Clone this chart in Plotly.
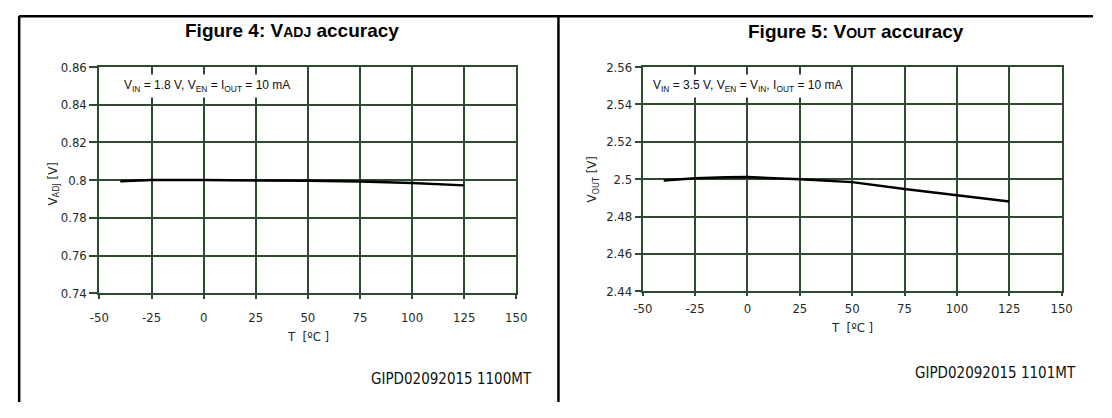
"""Two datasheet panels: V_ADJ and V_OUT accuracy versus temperature."""

import plotly.graph_objects as go

# the page keeps its default 8px body margin, so the figure is 16px smaller than the window
PAGE_W, PAGE_H, BODY = 1112, 418, 8
W, H = PAGE_W - 2 * BODY, PAGE_H - 2 * BODY

temp_adj = [-40, -30, -25, 0, 25, 50, 75, 100, 125]
vadj = [0.7994, 0.8, 0.8, 0.8, 0.8, 0.7997, 0.7993, 0.7985, 0.7972]

temp_out = [-40, -25, -10, 0, 25, 50, 75, 100, 125]
vout = [2.4993, 2.5005, 2.5010, 2.5011, 2.5, 2.4984, 2.4947, 2.4912, 2.488]

x_ticks = [-50, -25, 0, 25, 50, 75, 100, 125, 150]
x_labels = ["-50", "-25", "0", "25", "50", "75", "100", "125", "150"]
adj_ticks = [0.74, 0.76, 0.78, 0.8, 0.82, 0.84, 0.86]
adj_labels = ["0.74", "0.76", "0.78", "0.8", "0.82", "0.84", "0.86"]
out_ticks = [2.44, 2.46, 2.48, 2.5, 2.52, 2.54, 2.56]
out_labels = ["2.44", "2.46", "2.48", "2.5", "2.52", "2.54", "2.56"]

GRID = "#2f4a2f"
TXT = "#1e2b1e"
TICK_FONT = dict(family="Tahoma, DejaVu Sans Condensed, DejaVu Sans", size=13, color=TXT)
NOTE_FONT = dict(family="Liberation Sans Narrow, Arial Narrow, Liberation Sans", size=12, color="#111111")
TITLE_FONT = dict(family="Liberation Sans, Arial", size=19, color="#000000")


def px(x):
    # page pixel -> paper fraction
    return (x - BODY) / W


def py(y):
    return 1 - (y - BODY) / H


fig = go.Figure()
fig.add_trace(go.Scatter(x=temp_adj, y=vadj, mode="lines", xaxis="x", yaxis="y",
                         line=dict(color="#000000", width=2.5), showlegend=False))
fig.add_trace(go.Scatter(x=temp_out, y=vout, mode="lines", xaxis="x2", yaxis="y2",
                         line=dict(color="#000000", width=2.5), showlegend=False))

axis_common = dict(showgrid=True, gridcolor=GRID, gridwidth=2, showline=True, linecolor=GRID,
                   linewidth=2, mirror=True, ticks="outside", tickcolor=GRID, tickwidth=2,
                   tickfont=TICK_FONT, zeroline=False, fixedrange=True)

fig.update_layout(
    width=W, height=H, margin=dict(l=0, r=0, t=0, b=0),
    paper_bgcolor="white", plot_bgcolor="white",
    xaxis=dict(axis_common, domain=[px(91), px(516)], range=[-50, 150], tickvals=x_ticks,
               ticktext=x_labels, ticklen=4, ticklabelstandoff=7, anchor="y"),
    yaxis=dict(axis_common, domain=[py(297), py(62)], range=[0.74, 0.86], tickvals=adj_ticks,
               ticktext=adj_labels, ticklen=8, anchor="x"),
    xaxis2=dict(axis_common, domain=[px(645), px(1072)], range=[-50, 150], tickvals=x_ticks,
                ticktext=x_labels, ticklen=3, ticklabelstandoff=1, anchor="y2"),
    yaxis2=dict(axis_common, domain=[py(295), py(62)], range=[2.44, 2.56], tickvals=out_ticks,
                ticktext=out_labels, ticklen=6, anchor="x2"),
)

# table frame around the two figures
frame = dict(type="line", xref="paper", yref="paper", line=dict(color="#000000", width=2.5))
fig.add_shape(frame, x0=px(9), x1=1, y0=py(9.2), y1=py(9.2))
fig.add_shape(frame, x0=px(9.2), x1=px(9.2), y0=py(9), y1=0)
fig.add_shape(frame, x0=px(559), x1=px(559), y0=py(9), y1=0)

notes = [
    # (text, page x, page y, font, extra)
    ("<b>Figure 4: V<span style='font-size:14px'>ADJ</span> accuracy</b>", 287, 24, TITLE_FONT, {}),
    ("<b>Figure 5: V<span style='font-size:14px'>OUT</span> accuracy</b>", 862, 25, TITLE_FONT, {}),
    ("V<sub>IN</sub> = 1.8 V, V<sub>EN</sub> = I<sub>OUT</sub> = 10 mA", 201, 82, NOTE_FONT,
     dict(bgcolor="white", borderpad=3)),
    ("V<sub>IN</sub> = 3.5 V, V<sub>EN</sub> = V<sub>IN</sub>, I<sub>OUT</sub> = 10 mA", 752, 82, NOTE_FONT,
     dict(bgcolor="white", borderpad=3)),
    ("T  [ºC ]", 304, 342, TICK_FONT, {}),
    ("T  [ºC ]", 858, 333, TICK_FONT, {}),
    ("GIPD02092015 1100MT", 450, 386, dict(TICK_FONT, size=15, color="#111111"), {}),
    ("GIPD02092015 1101MT", 1005, 380, dict(TICK_FONT, size=15, color="#111111"), {}),
]
for text, x, y, font, extra in notes:
    fig.add_annotation(text=text, x=px(x), y=py(y), xref="paper", yref="paper", showarrow=False,
                       xanchor="center", yanchor="middle", font=font, **extra)

fig.add_annotation(text="V<sub>ADJ</sub> [V]", x=px(33), y=py(184), xref="paper", yref="paper",
                   showarrow=False, textangle=-90, font=TICK_FONT)
fig.add_annotation(text="V<sub>OUT</sub> [V]", x=px(594), y=py(179), xref="paper", yref="paper",
                   showarrow=False, textangle=-90, font=TICK_FONT)

fig.write_html("out.html", config={"displayModeBar": False})
